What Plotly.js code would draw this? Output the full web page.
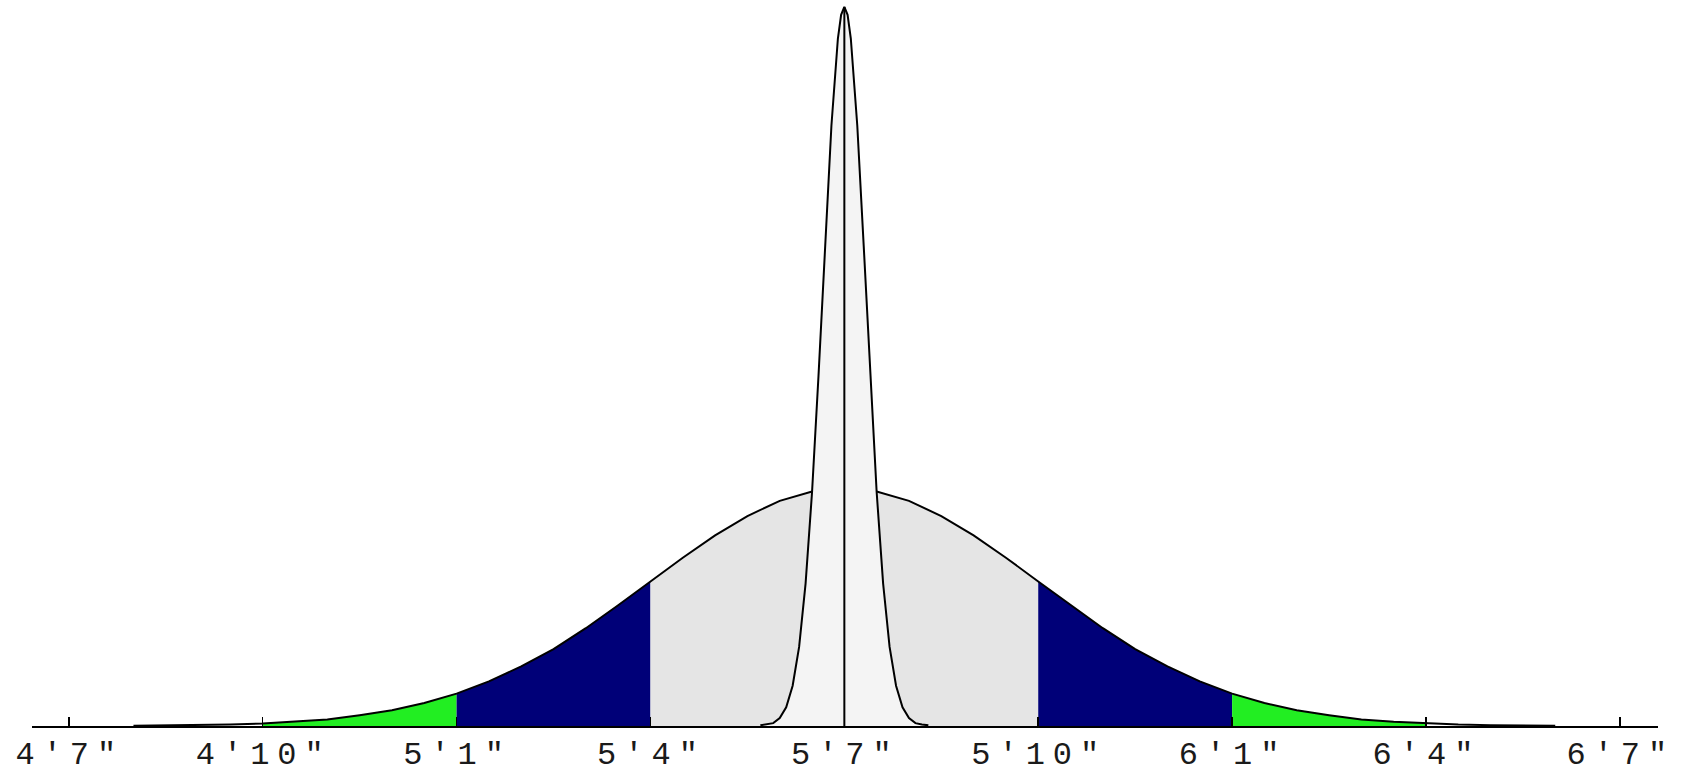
<!DOCTYPE html>
<html>
<head>
<meta charset="utf-8">
<script src="https://cdn.plot.ly/plotly-3.0.1.min.js"></script>
<style>
  html, body { margin: 0; padding: 0; background: #ffffff; }
  #chart { width: 1688px; height: 773px; }
  .xtick text { letter-spacing: 8px; }
</style>
</head>
<body>
<div id="chart"></div>
<script>
// Heights in inches; tick labels in feet'inches"
const tickValues = [55, 58, 61, 64, 67, 70, 73, 76, 79];
const tickLabels = ["4'7\"", "4'10\"", "5'1\"", "5'4\"", "5'7\"", "5'10\"", "6'1\"", "6'4\"", "6'7\""];

// Wide (population) distribution, relative height (narrow peak = 100)
const popHeights = [56, 56.5, 57, 57.5, 58, 58.5, 59, 59.5, 60, 60.5, 61, 61.5, 62, 62.5, 63, 63.5, 64, 64.5, 65, 65.5, 66, 66.5,
  67, 67.5, 68, 68.5, 69, 69.5, 70, 70.5, 71, 71.5, 72, 72.5, 73, 73.5, 74, 74.5, 75, 75.5, 76, 76.5, 77, 77.5, 78];
const popDensity = [0.04, 0.07, 0.12, 0.2, 0.35, 0.6, 0.9, 1.5, 2.2, 3.2, 4.5, 6.2, 8.3, 10.7, 13.6, 16.8, 20.1, 23.4, 26.5, 29.2, 31.3, 32.6,
  33.1, 32.6, 31.3, 29.2, 26.5, 23.4, 20.1, 16.8, 13.6, 10.7, 8.3, 6.2, 4.5, 3.2, 2.2, 1.5, 0.9, 0.6, 0.35, 0.2, 0.12, 0.07, 0.04];

// Narrow (sample mean) distribution
const meanHeights = [65.7, 65.8, 65.9, 66.0, 66.1, 66.2, 66.3, 66.4, 66.5, 66.6, 66.7, 66.8, 66.9, 66.95, 67.0,
  67.05, 67.1, 67.2, 67.3, 67.4, 67.5, 67.6, 67.7, 67.8, 67.9, 68.0, 68.1, 68.2, 68.3];
const meanDensity = [0.1, 0.2, 0.4, 1.1, 2.6, 5.6, 11.0, 19.8, 32.5, 48.7, 66.7, 83.5, 95.6, 98.9, 100,
  98.9, 95.6, 83.5, 66.7, 48.7, 32.5, 19.8, 11.0, 5.6, 2.6, 1.1, 0.4, 0.2, 0.1];

// Center (mean) and shaded band limits
const centerHeight = [67];
const bandLimits = [58, 61, 64, 70, 73, 76];
const bandColors = ["#22ee22", "#000078", "#e5e5e5", "#000078", "#22ee22"];

function segment(lo, hi) {
  const xs = [], ys = [];
  popHeights.forEach((h, i) => { if (h >= lo - 1e-9 && h <= hi + 1e-9) { xs.push(h); ys.push(popDensity[i]); } });
  return {xs, ys};
}

const traces = [];
for (let k = 0; k < bandLimits.length - 1; k++) {
  const s = segment(bandLimits[k], bandLimits[k + 1]);
  traces.push({
    x: s.xs, y: s.ys, type: 'scatter', mode: 'lines',
    fill: 'tozeroy', fillcolor: bandColors[k],
    line: {width: 0, color: bandColors[k]}, hoverinfo: 'skip'
  });
}
// wide outline
traces.push({
  x: popHeights, y: popDensity, type: 'scatter', mode: 'lines',
  line: {color: '#000000', width: 2}, hoverinfo: 'skip'
});
// narrow distribution
traces.push({
  x: meanHeights, y: meanDensity, type: 'scatter', mode: 'lines',
  fill: 'tozeroy', fillcolor: '#f4f4f4',
  line: {color: '#000000', width: 2}, hoverinfo: 'skip'
});
// center line
const peak = Math.max(...meanDensity);
traces.push({
  x: [centerHeight[0], centerHeight[0]], y: [0, peak], type: 'scatter', mode: 'lines',
  line: {color: '#000000', width: 2}, hoverinfo: 'skip'
});

const layout = {
  width: 1688, height: 773,
  margin: {l: 32, r: 30, t: 4, b: 47, pad: 0},
  paper_bgcolor: '#ffffff', plot_bgcolor: '#ffffff',
  showlegend: false,
  xaxis: {
    range: [54.43, 79.59], showgrid: false, zeroline: false,
    showline: true, linecolor: '#000000', linewidth: 2,
    ticks: 'inside', ticklen: 9, tickwidth: 1.5, tickcolor: '#000000',
    tickmode: 'array', tickvals: tickValues, ticktext: tickLabels,
    tickfont: {family: 'Liberation Mono, monospace', size: 32, color: '#1a1a1a'},
    ticklabelstandoff: -2, ticklabelshift: 1,
    automargin: false, fixedrange: true
  },
  yaxis: {
    range: [0, 100.4], visible: false, showgrid: false, zeroline: false, fixedrange: true
  }
};

Plotly.newPlot('chart', traces, layout, {displayModeBar: false, staticPlot: true});
</script>
</body>
</html>
